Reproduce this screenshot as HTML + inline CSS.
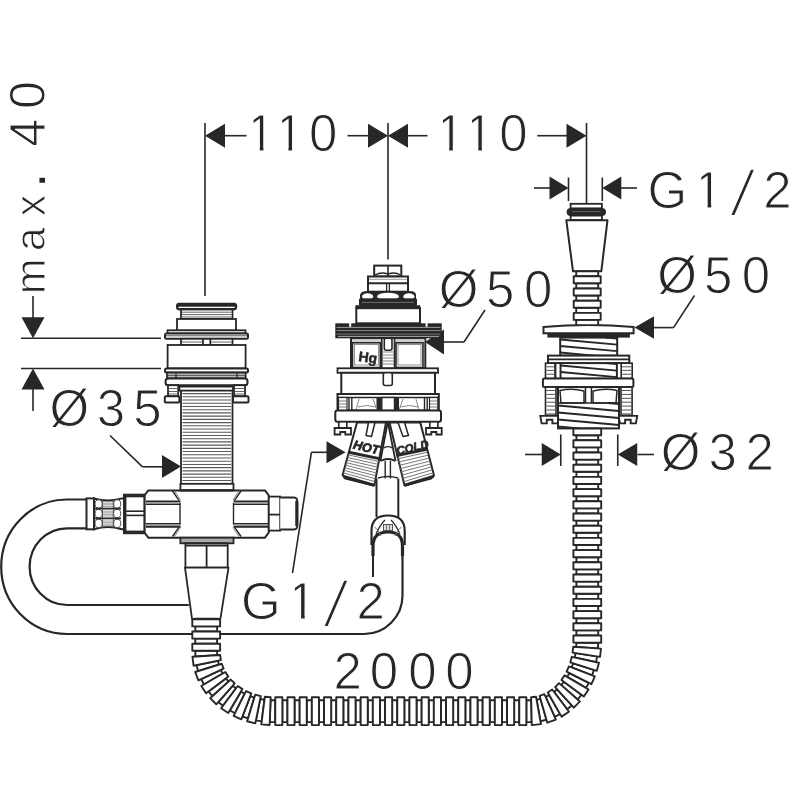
<!DOCTYPE html>
<html><head><meta charset="utf-8"><title>Installation drawing</title>
<style>
html,body{margin:0;padding:0;background:#fff;}
svg{display:block;filter:grayscale(1);}
text{font-family:"Liberation Sans",sans-serif;fill:#272727;}
.d{stroke:#fff;stroke-width:1px;}
</style></head><body>
<svg width="800" height="800" viewBox="0 0 800 800">
<rect width="800" height="800" fill="#fff"/>
<text class="d" x="246.53" y="151.1" font-size="51">1</text>
<rect x="250.02" y="146.4" width="9.76" height="5.6" fill="#fff"/>
<rect x="263.42" y="146.4" width="9.51" height="5.6" fill="#fff"/>
<rect x="250.02" y="114.91" width="3.54" height="13" fill="#fff"/>
<text class="d" x="275.18" y="151.1" font-size="51">1</text>
<rect x="278.67" y="146.4" width="9.76" height="5.6" fill="#fff"/>
<rect x="292.07" y="146.4" width="9.51" height="5.6" fill="#fff"/>
<rect x="278.67" y="114.91" width="3.54" height="13" fill="#fff"/>
<text class="d" x="308.92" y="151.1" font-size="51">0</text>
<text class="d" x="435.93" y="151.1" font-size="51">1</text>
<rect x="439.42" y="146.4" width="9.76" height="5.6" fill="#fff"/>
<rect x="452.82" y="146.4" width="9.51" height="5.6" fill="#fff"/>
<rect x="439.42" y="114.91" width="3.54" height="13" fill="#fff"/>
<text class="d" x="465.03" y="151.1" font-size="51">1</text>
<rect x="468.52" y="146.4" width="9.76" height="5.6" fill="#fff"/>
<rect x="481.92" y="146.4" width="9.51" height="5.6" fill="#fff"/>
<rect x="468.52" y="114.91" width="3.54" height="13" fill="#fff"/>
<text class="d" x="499.22" y="151.1" font-size="51">0</text>
<text class="d" x="647.39" y="207.6" font-size="51">G</text>
<text class="d" x="694.33" y="207.6" font-size="51">1</text>
<rect x="697.82" y="203.4" width="9.76" height="5.6" fill="#fff"/>
<rect x="711.22" y="203.4" width="9.51" height="5.6" fill="#fff"/>
<rect x="697.82" y="171.91" width="3.54" height="13" fill="#fff"/>
<text class="d" transform="translate(737.9,214.7) skewX(-12) scale(1.0,1.24)" x="-7.08" y="0" font-size="51">/</text>
<text class="d" x="763.32" y="207.6" font-size="51">2</text>
<text class="d" x="241.09" y="618.8" font-size="51">G</text>
<text class="d" x="287.83" y="618.8" font-size="51">1</text>
<rect x="291.32" y="614.4" width="9.76" height="5.6" fill="#fff"/>
<rect x="304.72" y="614.4" width="9.51" height="5.6" fill="#fff"/>
<rect x="291.32" y="582.91" width="3.54" height="13" fill="#fff"/>
<text class="d" transform="translate(331,626.2) skewX(-12) scale(1.0,1.24)" x="-7.08" y="0" font-size="51">/</text>
<text class="d" x="356.57" y="618.8" font-size="51">2</text>
<text class="d" x="438.64" y="307.2" font-size="51">Ø</text>
<text class="d" x="486.12" y="307" font-size="51">5</text>
<text class="d" x="523.92" y="307" font-size="51">0</text>
<text class="d" x="657.14" y="292.9" font-size="51">Ø</text>
<text class="d" x="704.12" y="292.9" font-size="51">5</text>
<text class="d" x="741.82" y="292.9" font-size="51">0</text>
<text class="d" x="660.64" y="470.2" font-size="51">Ø</text>
<text class="d" x="708.47" y="469.9" font-size="51">3</text>
<text class="d" x="745.62" y="469.5" font-size="51">2</text>
<text class="d" x="49.54" y="425.7" font-size="51">Ø</text>
<text class="d" x="96.77" y="425.6" font-size="51">3</text>
<text class="d" x="133.27" y="425.6" font-size="51">5</text>
<text class="d" x="333.62" y="689.3" font-size="51">2</text>
<text class="d" x="369.72" y="689.3" font-size="51">0</text>
<text class="d" x="408.17" y="689.3" font-size="51">0</text>
<text class="d" x="445.22" y="689.3" font-size="51">0</text>
<text class="d" transform="rotate(-90)" x="-294.32" y="45.2" font-size="43">m</text>
<text class="d" transform="rotate(-90)" x="-251.37" y="45.2" font-size="43">a</text>
<text class="d" transform="rotate(-90)" x="-216.26" y="45.2" font-size="43">x</text>
<text transform="rotate(-90)" x="-187.42" y="45.2" font-size="52">.</text>
<text class="d" transform="rotate(-90)" x="-146.68" y="45.2" font-size="50.5">4</text>
<text class="d" transform="rotate(-90)" x="-109.04" y="45.2" font-size="50.5">0</text>
<line x1="205" y1="123" x2="205" y2="296" stroke="#272727" stroke-width="1.6"/>
<line x1="388" y1="123" x2="388" y2="259.5" stroke="#272727" stroke-width="1.6"/>
<line x1="586.5" y1="123" x2="586.5" y2="203" stroke="#272727" stroke-width="1.6"/>
<path d="M205,135.7 L225,123.7 L225,147.7 Z" fill="#272727"/>
<line x1="225" y1="135.7" x2="246.5" y2="135.7" stroke="#272727" stroke-width="1.6"/>
<line x1="347.5" y1="135.7" x2="368.5" y2="135.7" stroke="#272727" stroke-width="1.6"/>
<path d="M388,135.7 L368,123.7 L368,147.7 Z" fill="#272727"/>
<path d="M388,135.7 L408,123.7 L408,147.7 Z" fill="#272727"/>
<line x1="407.5" y1="135.7" x2="427.5" y2="135.7" stroke="#272727" stroke-width="1.6"/>
<line x1="537.3" y1="135.7" x2="567" y2="135.7" stroke="#272727" stroke-width="1.6"/>
<path d="M586.5,135.7 L566.5,123.7 L566.5,147.7 Z" fill="#272727"/>
<line x1="534" y1="188" x2="550" y2="188" stroke="#272727" stroke-width="1.6"/>
<path d="M568.5,188 L549.5,176.5 L549.5,199.5 Z" fill="#272727"/>
<line x1="568.5" y1="177.5" x2="568.5" y2="201" stroke="#272727" stroke-width="1.6"/>
<line x1="602.3" y1="177.5" x2="602.3" y2="201" stroke="#272727" stroke-width="1.6"/>
<path d="M602.3,188 L621.3,176.5 L621.3,199.5 Z" fill="#272727"/>
<line x1="621" y1="188" x2="637" y2="188" stroke="#272727" stroke-width="1.6"/>
<line x1="21" y1="338.3" x2="161" y2="338.3" stroke="#272727" stroke-width="1.6"/>
<line x1="21" y1="368.5" x2="161" y2="368.5" stroke="#272727" stroke-width="1.6"/>
<line x1="33" y1="296" x2="33" y2="318" stroke="#272727" stroke-width="1.6"/>
<path d="M33,338.3 L21.5,317.3 L44.5,317.3 Z" fill="#272727"/>
<path d="M33,368.5 L21.5,389.5 L44.5,389.5 Z" fill="#272727"/>
<line x1="33" y1="389" x2="33" y2="411" stroke="#272727" stroke-width="1.6"/>
<path d="M181,466.5 L162,455 L162,478 Z" fill="#272727"/>
<line x1="162" y1="466.8" x2="142.5" y2="466.8" stroke="#272727" stroke-width="1.6"/>
<line x1="142.5" y1="466.8" x2="110" y2="435.5" stroke="#272727" stroke-width="1.6"/>
<path d="M345.5,452.3 L326.5,441.3 L326.5,463.3 Z" fill="#272727"/>
<line x1="327" y1="452.3" x2="311.4" y2="452.3" stroke="#272727" stroke-width="1.6"/>
<line x1="311.4" y1="452.3" x2="292.5" y2="573" stroke="#272727" stroke-width="1.6"/>
<path d="M425,342 L444,329.5 L444,354.5 Z" fill="#272727"/>
<line x1="444" y1="342" x2="464" y2="342" stroke="#272727" stroke-width="1.6"/>
<line x1="464" y1="342" x2="485" y2="310" stroke="#272727" stroke-width="1.6"/>
<path d="M634.5,327.6 L654,316.35 L654,338.85 Z" fill="#272727"/>
<line x1="654" y1="327.6" x2="673.5" y2="327.6" stroke="#272727" stroke-width="1.6"/>
<line x1="673.5" y1="327.6" x2="694.5" y2="295.5" stroke="#272727" stroke-width="1.6"/>
<line x1="560.75" y1="434.5" x2="560.75" y2="466" stroke="#272727" stroke-width="1.6"/>
<line x1="617.75" y1="434.5" x2="617.75" y2="466" stroke="#272727" stroke-width="1.6"/>
<line x1="525" y1="454.5" x2="542" y2="454.5" stroke="#272727" stroke-width="1.6"/>
<path d="M560.75,454.5 L541.75,443 L541.75,466 Z" fill="#272727"/>
<path d="M617.75,454.5 L637.25,443 L637.25,466 Z" fill="#272727"/>
<line x1="637.5" y1="454.5" x2="654" y2="454.5" stroke="#272727" stroke-width="1.6"/>
<rect x="181" y="388" width="51.5" height="98" fill="#fff" stroke="#272727" stroke-width="1.8"/>
<line x1="182.5" y1="393.6" x2="231" y2="393.6" stroke="#5a5a5a" stroke-width="1.1"/>
<line x1="182.5" y1="396.82" x2="231" y2="396.82" stroke="#5a5a5a" stroke-width="1.1"/>
<line x1="182.5" y1="400.04" x2="231" y2="400.04" stroke="#5a5a5a" stroke-width="1.1"/>
<line x1="182.5" y1="403.26" x2="231" y2="403.26" stroke="#5a5a5a" stroke-width="1.1"/>
<line x1="182.5" y1="406.48" x2="231" y2="406.48" stroke="#5a5a5a" stroke-width="1.1"/>
<line x1="182.5" y1="409.7" x2="231" y2="409.7" stroke="#5a5a5a" stroke-width="1.1"/>
<line x1="182.5" y1="412.92" x2="231" y2="412.92" stroke="#5a5a5a" stroke-width="1.1"/>
<line x1="182.5" y1="416.14" x2="231" y2="416.14" stroke="#5a5a5a" stroke-width="1.1"/>
<line x1="182.5" y1="419.36" x2="231" y2="419.36" stroke="#5a5a5a" stroke-width="1.1"/>
<line x1="182.5" y1="422.58" x2="231" y2="422.58" stroke="#5a5a5a" stroke-width="1.1"/>
<line x1="182.5" y1="425.8" x2="231" y2="425.8" stroke="#5a5a5a" stroke-width="1.1"/>
<line x1="182.5" y1="429.02" x2="231" y2="429.02" stroke="#5a5a5a" stroke-width="1.1"/>
<line x1="182.5" y1="432.24" x2="231" y2="432.24" stroke="#5a5a5a" stroke-width="1.1"/>
<line x1="182.5" y1="435.46" x2="231" y2="435.46" stroke="#5a5a5a" stroke-width="1.1"/>
<line x1="182.5" y1="438.68" x2="231" y2="438.68" stroke="#5a5a5a" stroke-width="1.1"/>
<line x1="182.5" y1="441.9" x2="231" y2="441.9" stroke="#5a5a5a" stroke-width="1.1"/>
<line x1="182.5" y1="445.12" x2="231" y2="445.12" stroke="#5a5a5a" stroke-width="1.1"/>
<line x1="182.5" y1="448.34" x2="231" y2="448.34" stroke="#5a5a5a" stroke-width="1.1"/>
<line x1="182.5" y1="451.56" x2="231" y2="451.56" stroke="#5a5a5a" stroke-width="1.1"/>
<line x1="182.5" y1="454.78" x2="231" y2="454.78" stroke="#5a5a5a" stroke-width="1.1"/>
<line x1="182.5" y1="458" x2="231" y2="458" stroke="#5a5a5a" stroke-width="1.1"/>
<line x1="182.5" y1="461.22" x2="231" y2="461.22" stroke="#5a5a5a" stroke-width="1.1"/>
<line x1="182.5" y1="464.44" x2="231" y2="464.44" stroke="#5a5a5a" stroke-width="1.1"/>
<line x1="182.5" y1="467.66" x2="231" y2="467.66" stroke="#5a5a5a" stroke-width="1.1"/>
<line x1="182.5" y1="470.88" x2="231" y2="470.88" stroke="#5a5a5a" stroke-width="1.1"/>
<line x1="182.5" y1="474.1" x2="231" y2="474.1" stroke="#5a5a5a" stroke-width="1.1"/>
<line x1="182.5" y1="477.32" x2="231" y2="477.32" stroke="#5a5a5a" stroke-width="1.1"/>
<line x1="182.5" y1="480.54" x2="231" y2="480.54" stroke="#5a5a5a" stroke-width="1.1"/>
<line x1="182.5" y1="483.76" x2="231" y2="483.76" stroke="#5a5a5a" stroke-width="1.1"/>
<rect x="176.8" y="303.6" width="59.6" height="6" rx="2.5" fill="#272727" stroke="#272727" stroke-width="1.6"/>
<line x1="178.5" y1="307.3" x2="234.7" y2="307.3" stroke="#fff" stroke-width="1.3"/>
<rect x="181" y="309.5" width="51.5" height="9.5" fill="#fff" stroke="#272727" stroke-width="1.8"/>
<line x1="182" y1="312.2" x2="231.5" y2="312.2" stroke="#666" stroke-width="1.0"/>
<line x1="182" y1="314.6" x2="231.5" y2="314.6" stroke="#666" stroke-width="1.0"/>
<line x1="182" y1="317" x2="231.5" y2="317" stroke="#666" stroke-width="1.0"/>
<rect x="177" y="319" width="59" height="11.6" fill="#fff" stroke="#272727" stroke-width="1.8"/>
<rect x="167.5" y="330.3" width="78" height="3.1" fill="#fff" stroke="#272727" stroke-width="1.8"/>
<rect x="165" y="333.4" width="83" height="5.4" rx="1.5" fill="#fff" stroke="#272727" stroke-width="2.0"/>
<line x1="166" y1="335.8" x2="247" y2="335.8" stroke="#555" stroke-width="1.0"/>
<rect x="181" y="338.8" width="51.5" height="6.2" fill="#fff" stroke="#272727" stroke-width="1.8"/>
<line x1="203" y1="338.8" x2="203" y2="345" stroke="#272727" stroke-width="1.8"/>
<line x1="210.3" y1="338.8" x2="210.3" y2="345" stroke="#272727" stroke-width="1.8"/>
<line x1="182" y1="342" x2="202" y2="342" stroke="#666" stroke-width="1"/>
<line x1="211" y1="342" x2="231.5" y2="342" stroke="#666" stroke-width="1"/>
<rect x="167.6" y="345" width="78" height="23.4" fill="#fff" stroke="#272727" stroke-width="1.8"/>
<rect x="165" y="368.4" width="83" height="4.2" rx="1.5" fill="#fff" stroke="#272727" stroke-width="2.0"/>
<rect x="167" y="372.6" width="78.6" height="5.8" fill="#bdbdbd" stroke="#272727" stroke-width="1.8"/>
<line x1="168" y1="375.4" x2="244.6" y2="375.4" stroke="#555" stroke-width="1.0"/>
<line x1="176" y1="372.6" x2="176" y2="378.4" stroke="#272727" stroke-width="1.2"/>
<line x1="237" y1="372.6" x2="237" y2="378.4" stroke="#272727" stroke-width="1.2"/>
<rect x="165.6" y="378.6" width="81.9" height="6.6" rx="2.5" fill="#fff" stroke="#272727" stroke-width="2.0"/>
<rect x="168" y="385.2" width="10.2" height="11.1" fill="#fff" stroke="#272727" stroke-width="1.8"/>
<rect x="234" y="385.2" width="11" height="11.1" fill="#fff" stroke="#272727" stroke-width="1.8"/>
<line x1="169" y1="388.5" x2="177.2" y2="388.5" stroke="#666" stroke-width="1"/>
<line x1="235" y1="388.5" x2="244" y2="388.5" stroke="#666" stroke-width="1"/>
<line x1="169" y1="391.5" x2="177.2" y2="391.5" stroke="#666" stroke-width="1"/>
<line x1="235" y1="391.5" x2="244" y2="391.5" stroke="#666" stroke-width="1"/>
<line x1="169" y1="394" x2="177.2" y2="394" stroke="#666" stroke-width="1"/>
<line x1="235" y1="394" x2="244" y2="394" stroke="#666" stroke-width="1"/>
<rect x="179.4" y="386.6" width="53.6" height="4" fill="#fff" stroke="#272727" stroke-width="1.8"/>
<rect x="164.8" y="396.3" width="14.6" height="6.3" rx="1" fill="#fff" stroke="#272727" stroke-width="2.0"/>
<rect x="233" y="396.3" width="15.5" height="6.3" rx="1" fill="#fff" stroke="#272727" stroke-width="2.0"/>
<rect x="180.4" y="483.8" width="53.1" height="6.6" fill="#fff" stroke="#272727" stroke-width="1.8"/>
<path d="M148.3,490.4 L265,490.4 L268.8,495.5 L268.8,532.5 L265,537.7 L148.3,537.7 L144.4,532.5 L144.4,495.5 Z" fill="#fff" stroke="#272727" stroke-width="2.0" stroke-linejoin="round" />
<rect x="146" y="501.2" width="34.5" height="3" fill="#fff"/>
<line x1="146" y1="501.2" x2="180.5" y2="501.2" stroke="#272727" stroke-width="1.6"/>
<line x1="146" y1="504.2" x2="180.5" y2="504.2" stroke="#272727" stroke-width="1.6"/>
<line x1="233.5" y1="501.2" x2="268" y2="501.2" stroke="#272727" stroke-width="1.6"/>
<line x1="233.5" y1="504.2" x2="268" y2="504.2" stroke="#272727" stroke-width="1.6"/>
<rect x="146" y="523.8" width="34.5" height="3.1" fill="#fff"/>
<line x1="146" y1="523.8" x2="180.5" y2="523.8" stroke="#272727" stroke-width="1.6"/>
<line x1="146" y1="526.9" x2="180.5" y2="526.9" stroke="#272727" stroke-width="1.6"/>
<line x1="233.5" y1="523.8" x2="268" y2="523.8" stroke="#272727" stroke-width="1.6"/>
<line x1="233.5" y1="526.9" x2="268" y2="526.9" stroke="#272727" stroke-width="1.6"/>
<line x1="146" y1="502.7" x2="180.5" y2="502.7" stroke="#999" stroke-width="1.2"/>
<line x1="146" y1="525.3" x2="180.5" y2="525.3" stroke="#999" stroke-width="1.2"/>
<line x1="233.5" y1="502.7" x2="268" y2="502.7" stroke="#999" stroke-width="1.2"/>
<line x1="233.5" y1="525.3" x2="268" y2="525.3" stroke="#999" stroke-width="1.2"/>
<path d="M172.5,491 L179,500.4 M180,503 L180,524.4 M179,527.2 L172.5,536.5" fill="none" stroke="#272727" stroke-width="1.4" />
<path d="M174.5,491 L180.5,500 M180.5,527.5 L174.5,536.5" fill="none" stroke="#777" stroke-width="0.9" />
<path d="M241,491 L234.5,500.4 M233.5,503 L233.5,524.4 M234.5,527.2 L241,536.5" fill="none" stroke="#272727" stroke-width="1.4" />
<path d="M239,491 L233,500 M233,527.5 L239,536.5" fill="none" stroke="#777" stroke-width="0.9" />
<line x1="180" y1="490.4" x2="233.5" y2="490.4" stroke="#272727" stroke-width="2.2"/>
<rect x="180.4" y="537.7" width="53.1" height="5.6" fill="#aaa" stroke="#272727" stroke-width="1.8"/>
<rect x="185.4" y="543.3" width="42.3" height="24.3" fill="#fff" stroke="#272727" stroke-width="1.8"/>
<line x1="206.6" y1="545" x2="206.6" y2="567.6" stroke="#272727" stroke-width="1.8"/>
<line x1="186" y1="545.5" x2="227" y2="545.5" stroke="#272727" stroke-width="2.2"/>
<path d="M185,567.6 L228.5,567.6 L220.4,618.8 L192,618.8 Z" fill="#fff" stroke="#272727" stroke-width="1.8" stroke-linejoin="round" />
<rect x="268.8" y="496.6" width="11.4" height="34" fill="#fff" stroke="#272727" stroke-width="1.8"/>
<line x1="268.8" y1="514.6" x2="280.2" y2="514.6" stroke="#272727" stroke-width="1.8"/>
<path d="M280.2,497.6 L294,497.6 Q297.5,497.6 297.5,503 L297.5,524 Q297.5,529.5 294,529.5 L280.2,529.5" fill="#fff" stroke="#272727" stroke-width="2.0" />
<line x1="296.5" y1="501" x2="296.5" y2="526" stroke="#272727" stroke-width="2.5"/>
<rect x="124" y="494.7" width="20.4" height="38.5" fill="#fff" stroke="#272727" stroke-width="2.0"/>
<line x1="124" y1="496.2" x2="144.4" y2="496.2" stroke="#272727" stroke-width="2.2"/>
<line x1="124" y1="531.7" x2="144.4" y2="531.7" stroke="#272727" stroke-width="2.2"/>
<line x1="125.2" y1="495" x2="125.2" y2="533" stroke="#272727" stroke-width="2.4"/>
<line x1="124" y1="511.2" x2="144.4" y2="511.2" stroke="#272727" stroke-width="1.6"/>
<line x1="124" y1="515.4" x2="144.4" y2="515.4" stroke="#272727" stroke-width="1.6"/>
<rect x="86.5" y="498.4" width="7.5" height="30.9" fill="#fff" stroke="#272727" stroke-width="2.0"/>
<path d="M94,498.4 Q107.8,502.8 121.8,498.4 L124,498.4 L124,529.3 L121.8,529.3 Q107.8,524.9 94,529.3 Z" fill="#fff" stroke="#272727" stroke-width="2.0" />
<ellipse cx="98.6" cy="504.0" rx="3.6" ry="4.2" fill="#fff" stroke="#444" stroke-width="1.0"/>
<ellipse cx="117.2" cy="504.0" rx="3.6" ry="4.2" fill="#fff" stroke="#444" stroke-width="1.0"/>
<line x1="102.5" y1="501.6" x2="113.3" y2="501.6" stroke="#888" stroke-width="0.8"/>
<line x1="102.5" y1="503.2" x2="113.3" y2="503.2" stroke="#888" stroke-width="0.8"/>
<line x1="102.5" y1="504.8" x2="113.3" y2="504.8" stroke="#888" stroke-width="0.8"/>
<line x1="102.5" y1="506.4" x2="113.3" y2="506.4" stroke="#888" stroke-width="0.8"/>
<line x1="102.5" y1="499.8" x2="102.5" y2="508.2" stroke="#555" stroke-width="1.0"/>
<line x1="113.3" y1="499.8" x2="113.3" y2="508.2" stroke="#555" stroke-width="1.0"/>
<ellipse cx="98.6" cy="513.6" rx="3.6" ry="4.2" fill="#fff" stroke="#444" stroke-width="1.0"/>
<ellipse cx="117.2" cy="513.6" rx="3.6" ry="4.2" fill="#fff" stroke="#444" stroke-width="1.0"/>
<line x1="102.5" y1="511.2" x2="113.3" y2="511.2" stroke="#888" stroke-width="0.8"/>
<line x1="102.5" y1="512.8" x2="113.3" y2="512.8" stroke="#888" stroke-width="0.8"/>
<line x1="102.5" y1="514.4" x2="113.3" y2="514.4" stroke="#888" stroke-width="0.8"/>
<line x1="102.5" y1="516" x2="113.3" y2="516" stroke="#888" stroke-width="0.8"/>
<line x1="102.5" y1="509.4" x2="102.5" y2="517.8" stroke="#555" stroke-width="1.0"/>
<line x1="113.3" y1="509.4" x2="113.3" y2="517.8" stroke="#555" stroke-width="1.0"/>
<ellipse cx="98.6" cy="523.4" rx="3.6" ry="4.2" fill="#fff" stroke="#444" stroke-width="1.0"/>
<ellipse cx="117.2" cy="523.4" rx="3.6" ry="4.2" fill="#fff" stroke="#444" stroke-width="1.0"/>
<line x1="102.5" y1="521" x2="113.3" y2="521" stroke="#888" stroke-width="0.8"/>
<line x1="102.5" y1="522.6" x2="113.3" y2="522.6" stroke="#888" stroke-width="0.8"/>
<line x1="102.5" y1="524.2" x2="113.3" y2="524.2" stroke="#888" stroke-width="0.8"/>
<line x1="102.5" y1="525.8" x2="113.3" y2="525.8" stroke="#888" stroke-width="0.8"/>
<line x1="102.5" y1="519.2" x2="102.5" y2="527.6" stroke="#555" stroke-width="1.0"/>
<line x1="113.3" y1="519.2" x2="113.3" y2="527.6" stroke="#555" stroke-width="1.0"/>
<line x1="95" y1="508.6" x2="121" y2="508.6" stroke="#272727" stroke-width="1.8"/>
<line x1="95" y1="518.4" x2="121" y2="518.4" stroke="#272727" stroke-width="1.8"/>
<path d="M86.7,499.5 L67,499.5 A65.8,67.25 0 0 0 67,634 L192,634" fill="none" stroke="#272727" stroke-width="2.2" />
<path d="M86.7,528.3 L67,528.3 A37.4,38.35 0 0 0 67,605 L188.8,605" fill="none" stroke="#272727" stroke-width="2.2" />
<path d="M220,634 L364,634 A38.5,38.5 0 0 0 402.5,595.5 L402.5,550" fill="none" stroke="#272727" stroke-width="2.2" />
<line x1="373" y1="550" x2="373" y2="577" stroke="#272727" stroke-width="2.0"/>
<rect x="374.2" y="265.6" width="27.1" height="10.9" fill="#fff" stroke="#272727" stroke-width="2.0"/>
<line x1="388" y1="265.6" x2="388" y2="276.5" stroke="#272727" stroke-width="1.6"/>
<path d="M375,275 Q381,271.5 388,274 Q395,271.5 400.5,275" fill="none" stroke="#272727" stroke-width="1.4" />
<rect x="368" y="276.5" width="40" height="15.2" fill="#fff" stroke="#272727" stroke-width="2.0"/>
<line x1="368" y1="283.2" x2="408" y2="283.2" stroke="#272727" stroke-width="2.0"/>
<line x1="369" y1="279.3" x2="407" y2="279.3" stroke="#999" stroke-width="1.0"/>
<line x1="386.6" y1="283.2" x2="386.6" y2="291.7" stroke="#272727" stroke-width="1.3"/>
<line x1="389.4" y1="283.2" x2="389.4" y2="291.7" stroke="#272727" stroke-width="1.3"/>
<path d="M360.5,306 L360.5,295 Q361,291.7 365,291.7 L411,291.7 Q415.5,291.7 415.5,295 L415.5,306 Z" fill="#272727" stroke="#272727" stroke-width="1.0" />
<ellipse cx="367.6" cy="296.6" rx="5.6" ry="3.4" fill="#fff"/>
<ellipse cx="388" cy="296.4" rx="11" ry="3.6" fill="#fff"/>
<ellipse cx="408.9" cy="296.6" rx="5.6" ry="3.4" fill="#fff"/>
<rect x="362" y="298.4" width="52" height="1.8" fill="#272727"/>
<rect x="359" y="298.8" width="58" height="6.4" fill="#272727"/>
<line x1="362" y1="302.4" x2="414" y2="302.4" stroke="#777" stroke-width="0.9"/>
<rect x="355.4" y="305.2" width="64.9" height="3" fill="#272727"/>
<rect x="356.3" y="308.2" width="63.7" height="15.1" fill="#fff" stroke="#272727" stroke-width="2.0"/>
<rect x="335.3" y="323.3" width="106.4" height="15" fill="#272727"/>
<line x1="336.5" y1="327.4" x2="440.5" y2="327.4" stroke="#aaa" stroke-width="0.9"/>
<line x1="336.5" y1="330.5" x2="440.5" y2="330.5" stroke="#999" stroke-width="0.8"/>
<line x1="336.5" y1="334.1" x2="440.5" y2="334.1" stroke="#888" stroke-width="0.8"/>
<line x1="338" y1="336.4" x2="439" y2="336.4" stroke="#aaa" stroke-width="1.0"/>
<rect x="349.2" y="323" width="2" height="3.8" fill="#fff"/>
<rect x="425.6" y="323" width="2" height="3.8" fill="#fff"/>
<rect x="351" y="338.3" width="74.3" height="30" fill="#fff" stroke="#272727" stroke-width="2.0"/>
<rect x="352" y="339.3" width="72.3" height="3.2" fill="#cfcfcf"/>
<rect x="352.5" y="342.8" width="27.8" height="24.7" fill="#fff" stroke="#272727" stroke-width="1.6"/>
<rect x="354.5" y="344.5" width="24" height="20.5" fill="#fff" stroke="#777" stroke-width="0.8"/>
<rect x="396" y="342.8" width="27" height="24.7" fill="#fff" stroke="#272727" stroke-width="1.6"/>
<rect x="398" y="344.5" width="23" height="20.5" fill="#fff" stroke="#777" stroke-width="0.8"/>
<rect x="381.8" y="338.3" width="12.7" height="30" fill="#fff" stroke="#272727" stroke-width="1.6"/>
<line x1="382.5" y1="352" x2="393.8" y2="352" stroke="#777" stroke-width="0.9"/>
<line x1="382.5" y1="355" x2="393.8" y2="355" stroke="#777" stroke-width="0.9"/>
<line x1="382.5" y1="358" x2="393.8" y2="358" stroke="#777" stroke-width="0.9"/>
<line x1="382.5" y1="361" x2="393.8" y2="361" stroke="#777" stroke-width="0.9"/>
<line x1="382.5" y1="364" x2="393.8" y2="364" stroke="#777" stroke-width="0.9"/>
<rect x="384.3" y="338.3" width="7.7" height="11.9" rx="2" fill="#fff" stroke="#272727" stroke-width="1.6"/>
<text x="358.5" y="362" font-size="14" font-weight="bold" stroke="#272727" stroke-width="0.5" transform="rotate(8 366 357)">Hg</text>
<rect x="337.5" y="368.3" width="100.5" height="4.5" fill="#fff" stroke="#272727" stroke-width="1.8"/>
<rect x="341.3" y="372.8" width="93.7" height="21.7" fill="#fff" stroke="#272727" stroke-width="2.0"/>
<rect x="383.3" y="372.8" width="9" height="12.7" rx="2" fill="#fff" stroke="#272727" stroke-width="1.6"/>
<rect x="337.5" y="394" width="101.3" height="16.5" fill="#fff" stroke="#272727" stroke-width="2.0"/>
<line x1="337.5" y1="397.5" x2="438.8" y2="397.5" stroke="#272727" stroke-width="1.6"/>
<rect x="338.5" y="397.5" width="8.5" height="13" fill="#fff" stroke="#272727" stroke-width="1.2"/>
<rect x="429.5" y="397.5" width="8.3" height="13" fill="#fff" stroke="#272727" stroke-width="1.2"/>
<line x1="339" y1="401" x2="346.5" y2="401" stroke="#666" stroke-width="0.9"/>
<line x1="430" y1="401" x2="437.3" y2="401" stroke="#666" stroke-width="0.9"/>
<line x1="339" y1="404" x2="346.5" y2="404" stroke="#666" stroke-width="0.9"/>
<line x1="430" y1="404" x2="437.3" y2="404" stroke="#666" stroke-width="0.9"/>
<line x1="339" y1="407" x2="346.5" y2="407" stroke="#666" stroke-width="0.9"/>
<line x1="430" y1="407" x2="437.3" y2="407" stroke="#666" stroke-width="0.9"/>
<line x1="349" y1="397.5" x2="349" y2="410.5" stroke="#272727" stroke-width="1.4"/>
<line x1="351.8" y1="397.5" x2="351.8" y2="410.5" stroke="#272727" stroke-width="1.4"/>
<line x1="424.5" y1="397.5" x2="424.5" y2="410.5" stroke="#272727" stroke-width="1.4"/>
<line x1="427.2" y1="397.5" x2="427.2" y2="410.5" stroke="#272727" stroke-width="1.4"/>
<rect x="376.5" y="397.5" width="5.3" height="13" fill="#272727"/>
<rect x="394.5" y="397.5" width="4.5" height="13" fill="#272727"/>
<rect x="381.8" y="397.5" width="12.7" height="13" fill="#fff" stroke="#272727" stroke-width="1.4"/>
<path d="M356,410 L359,399 M373,399 L377,410" fill="none" stroke="#888" stroke-width="1.0" />
<path d="M419,410 L416,399 M403,399 L399,410" fill="none" stroke="#888" stroke-width="1.0" />
<path d="M358,407 Q366,404 376,407 M400,407 Q410,404 418,407" fill="none" stroke="#888" stroke-width="1.0" />
<rect x="335.3" y="410.5" width="105.7" height="11.3" rx="2" fill="#fff" stroke="#272727" stroke-width="2.0"/>
<rect x="338.8" y="421.8" width="8" height="6.2" fill="#fff" stroke="#272727" stroke-width="1.6"/>
<path d="M334.6,428 L351,428 L351,434.5 L345.3,434.5 L345.3,432 L340.3,432 L340.3,434.5 L334.6,434.5 Z" fill="#fff" stroke="#272727" stroke-width="1.8" />
<rect x="429.85" y="421.8" width="8" height="6.2" fill="#fff" stroke="#272727" stroke-width="1.6"/>
<path d="M426,428 L441.7,428 L441.7,434.5 L436.35,434.5 L436.35,432 L431.35,432 L431.35,434.5 L426,434.5 Z" fill="#fff" stroke="#272727" stroke-width="1.8" />
<path d="M387.8,421.8 L380.4,461 M387.8,421.8 L395.5,461" fill="none" stroke="#272727" stroke-width="1.8" />
<path d="M383.8,447.8 Q388,445.5 392.2,447.8" fill="none" stroke="#272727" stroke-width="1.4" />
<path d="M380.4,461 Q388,457 395.5,461" fill="none" stroke="#272727" stroke-width="1.8" />
<line x1="385.2" y1="461" x2="385.2" y2="478.5" stroke="#272727" stroke-width="1.4"/>
<line x1="390.4" y1="461" x2="390.4" y2="478.5" stroke="#272727" stroke-width="1.4"/>
<path d="M378,478 Q388,475 398,478" fill="none" stroke="#272727" stroke-width="1.6" />
<path d="M357,422.5 L386,422.5 L374.3,485.5 L345.5,478.5 L342.6,475 Z" fill="#fff" stroke="#272727" stroke-width="2.0" stroke-linejoin="round" />
<line x1="348.13" y1="454.88" x2="378.77" y2="461.48" stroke="#777" stroke-width="1.0"/>
<line x1="347.47" y1="457.46" x2="378.23" y2="464.36" stroke="#777" stroke-width="1.0"/>
<line x1="346.8" y1="460.03" x2="377.7" y2="467.23" stroke="#777" stroke-width="1.0"/>
<line x1="346.13" y1="462.61" x2="377.17" y2="470.11" stroke="#777" stroke-width="1.0"/>
<line x1="345.47" y1="465.19" x2="376.63" y2="472.99" stroke="#777" stroke-width="1.0"/>
<line x1="344.8" y1="467.77" x2="376.1" y2="475.87" stroke="#777" stroke-width="1.0"/>
<line x1="344.13" y1="470.34" x2="375.57" y2="478.74" stroke="#777" stroke-width="1.0"/>
<line x1="343.47" y1="472.92" x2="375.03" y2="481.62" stroke="#777" stroke-width="1.0"/>
<line x1="343.5" y1="476.5" x2="374" y2="485.2" stroke="#272727" stroke-width="3.0"/>
<line x1="348.8" y1="452.2" x2="379.3" y2="458.6" stroke="#272727" stroke-width="3.0"/>
<path d="M368.5,422.5 L375,422.5 L371.5,436.5 L366,435.5 Z" fill="#fff" stroke="#272727" stroke-width="1.5" stroke-linejoin="round" />
<text x="0" y="0" font-size="12.5" font-weight="bold" font-style="italic" stroke="#272727" stroke-width="0.7" transform="translate(352.5,448.6) rotate(13)">HOT</text>
<path d="M389.5,422.5 L420.3,422.5 L434,475.5 L431,478.5 L404.5,485.5 Z" fill="#fff" stroke="#272727" stroke-width="2.0" stroke-linejoin="round" />
<line x1="397.39" y1="458.87" x2="427.47" y2="452.24" stroke="#777" stroke-width="1.0"/>
<line x1="398.28" y1="462.13" x2="428.23" y2="455.19" stroke="#777" stroke-width="1.0"/>
<line x1="399.17" y1="465.4" x2="429" y2="458.13" stroke="#777" stroke-width="1.0"/>
<line x1="400.06" y1="468.67" x2="429.77" y2="461.08" stroke="#777" stroke-width="1.0"/>
<line x1="400.94" y1="471.93" x2="430.53" y2="464.02" stroke="#777" stroke-width="1.0"/>
<line x1="401.83" y1="475.2" x2="431.3" y2="466.97" stroke="#777" stroke-width="1.0"/>
<line x1="402.72" y1="478.47" x2="432.07" y2="469.91" stroke="#777" stroke-width="1.0"/>
<line x1="403.61" y1="481.73" x2="432.83" y2="472.86" stroke="#777" stroke-width="1.0"/>
<line x1="404.8" y1="485.2" x2="433.4" y2="476.4" stroke="#272727" stroke-width="3.0"/>
<line x1="396.5" y1="455.6" x2="426.7" y2="449.3" stroke="#272727" stroke-width="3.0"/>
<path d="M398,422.5 L404.5,422.5 L408.5,435.5 L403,436.5 Z" fill="#fff" stroke="#272727" stroke-width="1.5" stroke-linejoin="round" />
<text x="0" y="0" font-size="11.5" font-weight="bold" font-style="italic" stroke="#272727" stroke-width="0.7" transform="translate(397.5,455) rotate(-13)">COLD</text>
<line x1="376.5" y1="478.5" x2="376.5" y2="517" stroke="#272727" stroke-width="2.0"/>
<line x1="398.3" y1="478.5" x2="398.3" y2="517" stroke="#272727" stroke-width="2.0"/>
<path d="M371.5,545 L371.5,531 Q371.5,515.5 388,515.5 Q404.7,515.5 404.7,531 L404.7,545" fill="#fff" stroke="#272727" stroke-width="2.2" />
<path d="M373,556 L373,546 Q373,532 388,532 Q402.5,532 402.5,546 L402.5,556" fill="#fff" stroke="#272727" stroke-width="3.2" />
<path d="M376,534 Q380,525 385,520 M400,534 Q396,525 391,520" fill="none" stroke="#272727" stroke-width="1.2" />
<path d="M374.5,527 Q379,530 381,536 M401.5,527 Q397,530 395,536" fill="none" stroke="#666" stroke-width="1.0" />
<rect x="383.5" y="524.5" width="9" height="6" fill="#ddd" stroke="#555" stroke-width="1.0"/>
<line x1="386.5" y1="524.5" x2="386.5" y2="530.5" stroke="#555" stroke-width="0.8"/>
<line x1="389.5" y1="524.5" x2="389.5" y2="530.5" stroke="#555" stroke-width="0.8"/>
<rect x="570.6" y="203.8" width="31.3" height="4.6" fill="#fff" stroke="#272727" stroke-width="1.8"/>
<rect x="567" y="208.4" width="38.6" height="7.2" rx="3.5" fill="#272727" stroke="#272727" stroke-width="1.0"/>
<line x1="572" y1="211.6" x2="600.5" y2="211.6" stroke="#666" stroke-width="1.0"/>
<rect x="570.6" y="215.6" width="31.3" height="4.6" fill="#fff" stroke="#272727" stroke-width="1.8"/>
<path d="M566.3,220.2 L607.5,220.2 L601.3,271.3 L573,271.3 Z" fill="#fff" stroke="#272727" stroke-width="2.0" stroke-linejoin="round" />
<path d="M543.5,327 Q588.5,323.2 633.6,327 L633.6,333.2 L543.5,333.2 Z" fill="#fff" stroke="#272727" stroke-width="2.0" />
<rect x="547.4" y="333.2" width="82.5" height="4.4" fill="#272727"/>
<rect x="560.2" y="337.6" width="57" height="18" fill="#fff" stroke="#272727" stroke-width="2.0"/>
<line x1="605.14" y1="337.6" x2="617.2" y2="338.7" stroke="#272727" stroke-width="1.8"/>
<line x1="560.2" y1="339.5" x2="617.2" y2="344.7" stroke="#272727" stroke-width="1.8"/>
<line x1="560.2" y1="346" x2="617.2" y2="351.2" stroke="#272727" stroke-width="1.8"/>
<line x1="560.2" y1="352.5" x2="594.18" y2="355.6" stroke="#272727" stroke-width="1.8"/>
<rect x="548" y="355.6" width="81.3" height="7.6" fill="#fff" stroke="#272727" stroke-width="2.0"/>
<line x1="548" y1="359.4" x2="629.3" y2="359.4" stroke="#272727" stroke-width="1.6"/>
<rect x="545.5" y="363.2" width="9.5" height="15.4" fill="#fff" stroke="#272727" stroke-width="1.6"/>
<rect x="621.2" y="363.2" width="11" height="15.4" fill="#fff" stroke="#272727" stroke-width="1.6"/>
<line x1="546.5" y1="366.8" x2="554" y2="366.8" stroke="#555" stroke-width="1.0"/>
<line x1="622.2" y1="366.8" x2="631.2" y2="366.8" stroke="#555" stroke-width="1.0"/>
<line x1="546.5" y1="370.4" x2="554" y2="370.4" stroke="#555" stroke-width="1.0"/>
<line x1="622.2" y1="370.4" x2="631.2" y2="370.4" stroke="#555" stroke-width="1.0"/>
<line x1="546.5" y1="374.2" x2="554" y2="374.2" stroke="#555" stroke-width="1.0"/>
<line x1="622.2" y1="374.2" x2="631.2" y2="374.2" stroke="#555" stroke-width="1.0"/>
<rect x="555.6" y="363.2" width="5" height="15.4" fill="#fff" stroke="#272727" stroke-width="1.6"/>
<rect x="616.8" y="363.2" width="4.4" height="15.4" fill="#fff" stroke="#272727" stroke-width="1.6"/>
<rect x="560.6" y="363.2" width="56.2" height="15.4" fill="#fff" stroke="#272727" stroke-width="1.8"/>
<line x1="605.99" y1="363.2" x2="616.8" y2="364.2" stroke="#272727" stroke-width="1.8"/>
<line x1="560.6" y1="365.5" x2="616.8" y2="370.7" stroke="#272727" stroke-width="1.8"/>
<line x1="560.6" y1="372" x2="616.8" y2="377.2" stroke="#272727" stroke-width="1.8"/>
<line x1="560.6" y1="378.5" x2="561.68" y2="378.6" stroke="#272727" stroke-width="1.8"/>
<rect x="542.9" y="378.6" width="90.5" height="8.5" rx="1.5" fill="#fff" stroke="#272727" stroke-width="2.0"/>
<rect x="545.5" y="387.1" width="10.5" height="28.2" fill="#fff" stroke="#272727" stroke-width="1.6"/>
<rect x="621" y="387.1" width="11.1" height="28.2" fill="#fff" stroke="#272727" stroke-width="1.6"/>
<line x1="546.5" y1="390.5" x2="555" y2="390.5" stroke="#555" stroke-width="1.0"/>
<line x1="622" y1="390.5" x2="631.1" y2="390.5" stroke="#555" stroke-width="1.0"/>
<line x1="546.5" y1="394.4" x2="555" y2="394.4" stroke="#555" stroke-width="1.0"/>
<line x1="622" y1="394.4" x2="631.1" y2="394.4" stroke="#555" stroke-width="1.0"/>
<line x1="546.5" y1="398.3" x2="555" y2="398.3" stroke="#555" stroke-width="1.0"/>
<line x1="622" y1="398.3" x2="631.1" y2="398.3" stroke="#555" stroke-width="1.0"/>
<line x1="546.5" y1="402.2" x2="555" y2="402.2" stroke="#555" stroke-width="1.0"/>
<line x1="622" y1="402.2" x2="631.1" y2="402.2" stroke="#555" stroke-width="1.0"/>
<line x1="546.5" y1="406.1" x2="555" y2="406.1" stroke="#555" stroke-width="1.0"/>
<line x1="622" y1="406.1" x2="631.1" y2="406.1" stroke="#555" stroke-width="1.0"/>
<line x1="546.5" y1="410" x2="555" y2="410" stroke="#555" stroke-width="1.0"/>
<line x1="622" y1="410" x2="631.1" y2="410" stroke="#555" stroke-width="1.0"/>
<line x1="546.5" y1="413.9" x2="555" y2="413.9" stroke="#555" stroke-width="1.0"/>
<line x1="622" y1="413.9" x2="631.1" y2="413.9" stroke="#555" stroke-width="1.0"/>
<path d="M540.3,415.9 L558.9,415.9 L557.6,423.4 L552.4,423.4 L552.4,419.8 L546.8,419.8 L546.8,423.4 L541.6,423.4 Z" fill="#fff" stroke="#272727" stroke-width="1.9" />
<path d="M618.6,415.9 L637.2,415.9 L635.9,423.4 L630.7,423.4 L630.7,419.8 L625.1,419.8 L625.1,423.4 L619.9,423.4 Z" fill="#fff" stroke="#272727" stroke-width="1.9" />
<rect x="558" y="387.1" width="61" height="41.3" fill="#fff" stroke="#272727" stroke-width="2.0"/>
<path d="M560,390.5 Q572,388 584,391 L584,403 L561,403 Z" fill="#fff" stroke="#272727" stroke-width="1.5" />
<path d="M617,390.5 Q605,388 593,391 L593,403 L616,403 Z" fill="#fff" stroke="#272727" stroke-width="1.5" />
<line x1="585.5" y1="387.1" x2="585.5" y2="403" stroke="#272727" stroke-width="1.5"/>
<line x1="591.4" y1="387.1" x2="591.4" y2="403" stroke="#272727" stroke-width="1.5"/>
<line x1="607.91" y1="403" x2="619" y2="404" stroke="#272727" stroke-width="1.8"/>
<line x1="558" y1="405.5" x2="619" y2="411" stroke="#272727" stroke-width="1.8"/>
<line x1="558" y1="412.5" x2="619" y2="418" stroke="#272727" stroke-width="1.8"/>
<line x1="558" y1="419.5" x2="619" y2="425" stroke="#272727" stroke-width="1.8"/>
<line x1="558" y1="426.5" x2="579.07" y2="428.4" stroke="#272727" stroke-width="1.8"/>
<line x1="558" y1="403" x2="619" y2="403" stroke="#272727" stroke-width="1.6"/>
<path d="M576.2,271.3 L576.2,276.3 L598.2,276.3 L598.2,271.3 Z" fill="#fff" stroke="#272727" stroke-width="1.9" stroke-linejoin="round" />
<path d="M576.2,283.3 L576.2,288.5 L598.2,288.5 L598.2,283.3 Z" fill="#fff" stroke="#272727" stroke-width="1.9" stroke-linejoin="round" />
<path d="M576.2,295.5 L576.2,300.7 L598.2,300.7 L598.2,295.5 Z" fill="#fff" stroke="#272727" stroke-width="1.9" stroke-linejoin="round" />
<path d="M576.2,307.7 L576.2,312.9 L598.2,312.9 L598.2,307.7 Z" fill="#fff" stroke="#272727" stroke-width="1.9" stroke-linejoin="round" />
<path d="M576.2,319.9 L576.2,325.1 L598.2,325.1 L598.2,319.9 Z" fill="#fff" stroke="#272727" stroke-width="1.9" stroke-linejoin="round" />
<path d="M573.7,276.3 L573.7,283.3 L600.7,283.3 L600.7,276.3 Z" fill="#fff" stroke="#272727" stroke-width="1.9" stroke-linejoin="round" />
<path d="M573.7,288.5 L573.7,295.5 L600.7,295.5 L600.7,288.5 Z" fill="#fff" stroke="#272727" stroke-width="1.9" stroke-linejoin="round" />
<path d="M573.7,300.7 L573.7,307.7 L600.7,307.7 L600.7,300.7 Z" fill="#fff" stroke="#272727" stroke-width="1.9" stroke-linejoin="round" />
<path d="M573.7,312.9 L573.7,319.9 L600.7,319.9 L600.7,312.9 Z" fill="#fff" stroke="#272727" stroke-width="1.9" stroke-linejoin="round" />
<path d="M576.4,435.2 L576.4,440.3 L598.2,440.3 L598.2,435.2 Z" fill="#fff" stroke="#272727" stroke-width="1.9" stroke-linejoin="round" />
<path d="M576.4,447.4 L576.4,452.5 L598.2,452.5 L598.2,447.4 Z" fill="#fff" stroke="#272727" stroke-width="1.9" stroke-linejoin="round" />
<path d="M576.4,459.6 L576.4,464.7 L598.2,464.7 L598.2,459.6 Z" fill="#fff" stroke="#272727" stroke-width="1.9" stroke-linejoin="round" />
<path d="M576.4,471.8 L576.4,476.9 L598.2,476.9 L598.2,471.8 Z" fill="#fff" stroke="#272727" stroke-width="1.9" stroke-linejoin="round" />
<path d="M576.4,484 L576.4,489.1 L598.2,489.1 L598.2,484 Z" fill="#fff" stroke="#272727" stroke-width="1.9" stroke-linejoin="round" />
<path d="M576.4,496.2 L576.4,501.3 L598.2,501.3 L598.2,496.2 Z" fill="#fff" stroke="#272727" stroke-width="1.9" stroke-linejoin="round" />
<path d="M576.4,508.4 L576.4,513.5 L598.2,513.5 L598.2,508.4 Z" fill="#fff" stroke="#272727" stroke-width="1.9" stroke-linejoin="round" />
<path d="M576.4,520.6 L576.4,525.7 L598.2,525.7 L598.2,520.6 Z" fill="#fff" stroke="#272727" stroke-width="1.9" stroke-linejoin="round" />
<path d="M576.4,532.8 L576.4,537.9 L598.2,537.9 L598.2,532.8 Z" fill="#fff" stroke="#272727" stroke-width="1.9" stroke-linejoin="round" />
<path d="M576.4,545 L576.4,550.1 L598.2,550.1 L598.2,545 Z" fill="#fff" stroke="#272727" stroke-width="1.9" stroke-linejoin="round" />
<path d="M576.4,557.2 L576.4,562.3 L598.2,562.3 L598.2,557.2 Z" fill="#fff" stroke="#272727" stroke-width="1.9" stroke-linejoin="round" />
<path d="M576.4,569.4 L576.4,574.5 L598.2,574.5 L598.2,569.4 Z" fill="#fff" stroke="#272727" stroke-width="1.9" stroke-linejoin="round" />
<path d="M576.4,581.6 L576.4,586.7 L598.2,586.7 L598.2,581.6 Z" fill="#fff" stroke="#272727" stroke-width="1.9" stroke-linejoin="round" />
<path d="M576.4,593.8 L576.4,598.9 L598.2,598.9 L598.2,593.8 Z" fill="#fff" stroke="#272727" stroke-width="1.9" stroke-linejoin="round" />
<path d="M576.4,606 L576.4,611.1 L598.2,611.1 L598.2,606 Z" fill="#fff" stroke="#272727" stroke-width="1.9" stroke-linejoin="round" />
<path d="M576.4,618.2 L576.4,623.3 L598.2,623.3 L598.2,618.2 Z" fill="#fff" stroke="#272727" stroke-width="1.9" stroke-linejoin="round" />
<path d="M576.4,630.4 L576.4,635.5 L598.2,635.5 L598.2,630.4 Z" fill="#fff" stroke="#272727" stroke-width="1.9" stroke-linejoin="round" />
<path d="M576.4,642.49 L576.23,646.95 L597.98,648.44 L598.2,642.71 Z" fill="#fff" stroke="#272727" stroke-width="1.9" stroke-linejoin="round" />
<path d="M575.55,653.09 L574.74,657.46 L596.04,662.07 L597.1,656.42 Z" fill="#fff" stroke="#272727" stroke-width="1.9" stroke-linejoin="round" />
<path d="M573.18,663.33 L571.72,667.51 L592.05,675.36 L593.96,669.91 Z" fill="#fff" stroke="#272727" stroke-width="1.9" stroke-linejoin="round" />
<path d="M569.28,673.03 L567.18,676.88 L585.97,687.93 L588.75,682.83 Z" fill="#fff" stroke="#272727" stroke-width="1.9" stroke-linejoin="round" />
<path d="M563.88,681.85 L561.26,685.1 L577.65,699.48 L581.42,694.79 Z" fill="#fff" stroke="#272727" stroke-width="1.9" stroke-linejoin="round" />
<path d="M557.16,689.3 L554.01,691.93 L567.15,709.33 L571.83,705.43 Z" fill="#fff" stroke="#272727" stroke-width="1.9" stroke-linejoin="round" />
<path d="M549.28,695.08 L545.61,696.96 L554.65,716.8 L560.06,714.03 Z" fill="#fff" stroke="#272727" stroke-width="1.9" stroke-linejoin="round" />
<path d="M540.46,698.85 L536.59,699.75 L540.42,721.21 L546.49,719.8 Z" fill="#fff" stroke="#272727" stroke-width="1.9" stroke-linejoin="round" />
<path d="M531.19,700.29 L526.35,700.3 L526.35,722.1 L531.71,722.08 Z" fill="#fff" stroke="#272727" stroke-width="1.9" stroke-linejoin="round" />
<path d="M519.25,700.3 L514.15,700.3 L514.15,722.1 L519.25,722.1 Z" fill="#fff" stroke="#272727" stroke-width="1.9" stroke-linejoin="round" />
<path d="M507.05,700.3 L501.95,700.3 L501.95,722.1 L507.05,722.1 Z" fill="#fff" stroke="#272727" stroke-width="1.9" stroke-linejoin="round" />
<path d="M494.85,700.3 L489.75,700.3 L489.75,722.1 L494.85,722.1 Z" fill="#fff" stroke="#272727" stroke-width="1.9" stroke-linejoin="round" />
<path d="M482.65,700.3 L477.55,700.3 L477.55,722.1 L482.65,722.1 Z" fill="#fff" stroke="#272727" stroke-width="1.9" stroke-linejoin="round" />
<path d="M470.45,700.3 L465.35,700.3 L465.35,722.1 L470.45,722.1 Z" fill="#fff" stroke="#272727" stroke-width="1.9" stroke-linejoin="round" />
<path d="M458.25,700.3 L453.15,700.3 L453.15,722.1 L458.25,722.1 Z" fill="#fff" stroke="#272727" stroke-width="1.9" stroke-linejoin="round" />
<path d="M446.05,700.3 L440.95,700.3 L440.95,722.1 L446.05,722.1 Z" fill="#fff" stroke="#272727" stroke-width="1.9" stroke-linejoin="round" />
<path d="M433.85,700.3 L428.75,700.3 L428.75,722.1 L433.85,722.1 Z" fill="#fff" stroke="#272727" stroke-width="1.9" stroke-linejoin="round" />
<path d="M421.65,700.3 L416.55,700.3 L416.55,722.1 L421.65,722.1 Z" fill="#fff" stroke="#272727" stroke-width="1.9" stroke-linejoin="round" />
<path d="M409.45,700.3 L404.35,700.3 L404.35,722.1 L409.45,722.1 Z" fill="#fff" stroke="#272727" stroke-width="1.9" stroke-linejoin="round" />
<path d="M397.25,700.3 L392.15,700.3 L392.15,722.1 L397.25,722.1 Z" fill="#fff" stroke="#272727" stroke-width="1.9" stroke-linejoin="round" />
<path d="M385.05,700.3 L379.95,700.3 L379.95,722.1 L385.05,722.1 Z" fill="#fff" stroke="#272727" stroke-width="1.9" stroke-linejoin="round" />
<path d="M372.85,700.3 L367.75,700.3 L367.75,722.1 L372.85,722.1 Z" fill="#fff" stroke="#272727" stroke-width="1.9" stroke-linejoin="round" />
<path d="M360.65,700.3 L355.55,700.3 L355.55,722.1 L360.65,722.1 Z" fill="#fff" stroke="#272727" stroke-width="1.9" stroke-linejoin="round" />
<path d="M348.45,700.3 L343.35,700.3 L343.35,722.1 L348.45,722.1 Z" fill="#fff" stroke="#272727" stroke-width="1.9" stroke-linejoin="round" />
<path d="M336.25,700.3 L331.15,700.3 L331.15,722.1 L336.25,722.1 Z" fill="#fff" stroke="#272727" stroke-width="1.9" stroke-linejoin="round" />
<path d="M324.05,700.3 L318.95,700.3 L318.95,722.1 L324.05,722.1 Z" fill="#fff" stroke="#272727" stroke-width="1.9" stroke-linejoin="round" />
<path d="M311.85,700.3 L306.75,700.3 L306.75,722.1 L311.85,722.1 Z" fill="#fff" stroke="#272727" stroke-width="1.9" stroke-linejoin="round" />
<path d="M299.65,700.3 L294.55,700.3 L294.55,722.1 L299.65,722.1 Z" fill="#fff" stroke="#272727" stroke-width="1.9" stroke-linejoin="round" />
<path d="M287.45,700.3 L282.35,700.3 L282.35,722.1 L287.45,722.1 Z" fill="#fff" stroke="#272727" stroke-width="1.9" stroke-linejoin="round" />
<path d="M275.25,700.3 L270.56,700.25 L269.74,722.04 L275.25,722.1 Z" fill="#fff" stroke="#272727" stroke-width="1.9" stroke-linejoin="round" />
<path d="M264.47,699.74 L260.18,699.03 L255.91,720.41 L261.69,721.36 Z" fill="#fff" stroke="#272727" stroke-width="1.9" stroke-linejoin="round" />
<path d="M254.34,697.56 L250.25,696.17 L242.42,716.52 L247.98,718.42 Z" fill="#fff" stroke="#272727" stroke-width="1.9" stroke-linejoin="round" />
<path d="M244.69,693.73 L240.92,691.67 L229.8,710.42 L234.99,713.26 Z" fill="#fff" stroke="#272727" stroke-width="1.9" stroke-linejoin="round" />
<path d="M235.99,688.36 L232.75,685.73 L218.28,702.03 L222.95,705.83 Z" fill="#fff" stroke="#272727" stroke-width="1.9" stroke-linejoin="round" />
<path d="M228.57,681.59 L225.95,678.41 L208.51,691.49 L212.38,696.18 Z" fill="#fff" stroke="#272727" stroke-width="1.9" stroke-linejoin="round" />
<path d="M222.74,673.56 L220.88,669.94 L201.08,679.06 L203.89,684.5 Z" fill="#fff" stroke="#272727" stroke-width="1.9" stroke-linejoin="round" />
<path d="M218.87,664.64 L217.89,660.73 L196.53,665.12 L198.05,671.09 Z" fill="#fff" stroke="#272727" stroke-width="1.9" stroke-linejoin="round" />
<path d="M217.18,655.25 L217.1,650.79 L195.3,650.79 L195.41,656.53 Z" fill="#fff" stroke="#272727" stroke-width="1.9" stroke-linejoin="round" />
<path d="M217.1,643.69 L217.1,638.59 L195.3,638.59 L195.3,643.69 Z" fill="#fff" stroke="#272727" stroke-width="1.9" stroke-linejoin="round" />
<path d="M217.1,631.49 L217.1,626.39 L195.3,626.39 L195.3,631.49 Z" fill="#fff" stroke="#272727" stroke-width="1.9" stroke-linejoin="round" />
<path d="M217.1,619.29 L217.1,618.8 L195.3,618.8 L195.3,619.29 Z" fill="#fff" stroke="#272727" stroke-width="1.9" stroke-linejoin="round" />
<path d="M573.4,428.5 L573.4,435.2 L601.2,435.2 L601.2,428.5 Z" fill="#fff" stroke="#272727" stroke-width="1.9" stroke-linejoin="round" />
<path d="M573.4,440.3 L573.4,447.4 L601.2,447.4 L601.2,440.3 Z" fill="#fff" stroke="#272727" stroke-width="1.9" stroke-linejoin="round" />
<path d="M573.4,452.5 L573.4,459.6 L601.2,459.6 L601.2,452.5 Z" fill="#fff" stroke="#272727" stroke-width="1.9" stroke-linejoin="round" />
<path d="M573.4,464.7 L573.4,471.8 L601.2,471.8 L601.2,464.7 Z" fill="#fff" stroke="#272727" stroke-width="1.9" stroke-linejoin="round" />
<path d="M573.4,476.9 L573.4,484 L601.2,484 L601.2,476.9 Z" fill="#fff" stroke="#272727" stroke-width="1.9" stroke-linejoin="round" />
<path d="M573.4,489.1 L573.4,496.2 L601.2,496.2 L601.2,489.1 Z" fill="#fff" stroke="#272727" stroke-width="1.9" stroke-linejoin="round" />
<path d="M573.4,501.3 L573.4,508.4 L601.2,508.4 L601.2,501.3 Z" fill="#fff" stroke="#272727" stroke-width="1.9" stroke-linejoin="round" />
<path d="M573.4,513.5 L573.4,520.6 L601.2,520.6 L601.2,513.5 Z" fill="#fff" stroke="#272727" stroke-width="1.9" stroke-linejoin="round" />
<path d="M573.4,525.7 L573.4,532.8 L601.2,532.8 L601.2,525.7 Z" fill="#fff" stroke="#272727" stroke-width="1.9" stroke-linejoin="round" />
<path d="M573.4,537.9 L573.4,545 L601.2,545 L601.2,537.9 Z" fill="#fff" stroke="#272727" stroke-width="1.9" stroke-linejoin="round" />
<path d="M573.4,550.1 L573.4,557.2 L601.2,557.2 L601.2,550.1 Z" fill="#fff" stroke="#272727" stroke-width="1.9" stroke-linejoin="round" />
<path d="M573.4,562.3 L573.4,569.4 L601.2,569.4 L601.2,562.3 Z" fill="#fff" stroke="#272727" stroke-width="1.9" stroke-linejoin="round" />
<path d="M573.4,574.5 L573.4,581.6 L601.2,581.6 L601.2,574.5 Z" fill="#fff" stroke="#272727" stroke-width="1.9" stroke-linejoin="round" />
<path d="M573.4,586.7 L573.4,593.8 L601.2,593.8 L601.2,586.7 Z" fill="#fff" stroke="#272727" stroke-width="1.9" stroke-linejoin="round" />
<path d="M573.4,598.9 L573.4,606 L601.2,606 L601.2,598.9 Z" fill="#fff" stroke="#272727" stroke-width="1.9" stroke-linejoin="round" />
<path d="M573.4,611.1 L573.4,618.2 L601.2,618.2 L601.2,611.1 Z" fill="#fff" stroke="#272727" stroke-width="1.9" stroke-linejoin="round" />
<path d="M573.4,623.3 L573.4,630.4 L601.2,630.4 L601.2,623.3 Z" fill="#fff" stroke="#272727" stroke-width="1.9" stroke-linejoin="round" />
<path d="M573.4,635.5 L573.4,642.46 L601.2,642.74 L601.2,635.5 Z" fill="#fff" stroke="#272727" stroke-width="1.9" stroke-linejoin="round" />
<path d="M573.24,646.75 L572.59,652.63 L600.06,656.87 L600.97,648.64 Z" fill="#fff" stroke="#272727" stroke-width="1.9" stroke-linejoin="round" />
<path d="M571.8,656.83 L570.32,662.43 L596.82,670.82 L598.98,662.7 Z" fill="#fff" stroke="#272727" stroke-width="1.9" stroke-linejoin="round" />
<path d="M568.92,666.43 L566.6,671.68 L591.43,684.18 L594.85,676.44 Z" fill="#fff" stroke="#272727" stroke-width="1.9" stroke-linejoin="round" />
<path d="M564.59,675.36 L561.46,680.07 L583.84,696.57 L588.56,689.45 Z" fill="#fff" stroke="#272727" stroke-width="1.9" stroke-linejoin="round" />
<path d="M559.01,683.12 L555.14,687.09 L573.85,707.64 L579.9,701.46 Z" fill="#fff" stroke="#272727" stroke-width="1.9" stroke-linejoin="round" />
<path d="M552.2,689.54 L547.8,692.47 L561.54,716.64 L568.96,711.72 Z" fill="#fff" stroke="#272727" stroke-width="1.9" stroke-linejoin="round" />
<path d="M544.37,694.23 L539.63,695.97 L547.32,722.68 L555.89,719.53 Z" fill="#fff" stroke="#272727" stroke-width="1.9" stroke-linejoin="round" />
<path d="M536.06,696.79 L531.12,697.29 L531.78,725.08 L540.95,724.16 Z" fill="#fff" stroke="#272727" stroke-width="1.9" stroke-linejoin="round" />
<path d="M526.35,697.3 L519.25,697.3 L519.25,725.1 L526.35,725.1 Z" fill="#fff" stroke="#272727" stroke-width="1.9" stroke-linejoin="round" />
<path d="M514.15,697.3 L507.05,697.3 L507.05,725.1 L514.15,725.1 Z" fill="#fff" stroke="#272727" stroke-width="1.9" stroke-linejoin="round" />
<path d="M501.95,697.3 L494.85,697.3 L494.85,725.1 L501.95,725.1 Z" fill="#fff" stroke="#272727" stroke-width="1.9" stroke-linejoin="round" />
<path d="M489.75,697.3 L482.65,697.3 L482.65,725.1 L489.75,725.1 Z" fill="#fff" stroke="#272727" stroke-width="1.9" stroke-linejoin="round" />
<path d="M477.55,697.3 L470.45,697.3 L470.45,725.1 L477.55,725.1 Z" fill="#fff" stroke="#272727" stroke-width="1.9" stroke-linejoin="round" />
<path d="M465.35,697.3 L458.25,697.3 L458.25,725.1 L465.35,725.1 Z" fill="#fff" stroke="#272727" stroke-width="1.9" stroke-linejoin="round" />
<path d="M453.15,697.3 L446.05,697.3 L446.05,725.1 L453.15,725.1 Z" fill="#fff" stroke="#272727" stroke-width="1.9" stroke-linejoin="round" />
<path d="M440.95,697.3 L433.85,697.3 L433.85,725.1 L440.95,725.1 Z" fill="#fff" stroke="#272727" stroke-width="1.9" stroke-linejoin="round" />
<path d="M428.75,697.3 L421.65,697.3 L421.65,725.1 L428.75,725.1 Z" fill="#fff" stroke="#272727" stroke-width="1.9" stroke-linejoin="round" />
<path d="M416.55,697.3 L409.45,697.3 L409.45,725.1 L416.55,725.1 Z" fill="#fff" stroke="#272727" stroke-width="1.9" stroke-linejoin="round" />
<path d="M404.35,697.3 L397.25,697.3 L397.25,725.1 L404.35,725.1 Z" fill="#fff" stroke="#272727" stroke-width="1.9" stroke-linejoin="round" />
<path d="M392.15,697.3 L385.05,697.3 L385.05,725.1 L392.15,725.1 Z" fill="#fff" stroke="#272727" stroke-width="1.9" stroke-linejoin="round" />
<path d="M379.95,697.3 L372.85,697.3 L372.85,725.1 L379.95,725.1 Z" fill="#fff" stroke="#272727" stroke-width="1.9" stroke-linejoin="round" />
<path d="M367.75,697.3 L360.65,697.3 L360.65,725.1 L367.75,725.1 Z" fill="#fff" stroke="#272727" stroke-width="1.9" stroke-linejoin="round" />
<path d="M355.55,697.3 L348.45,697.3 L348.45,725.1 L355.55,725.1 Z" fill="#fff" stroke="#272727" stroke-width="1.9" stroke-linejoin="round" />
<path d="M343.35,697.3 L336.25,697.3 L336.25,725.1 L343.35,725.1 Z" fill="#fff" stroke="#272727" stroke-width="1.9" stroke-linejoin="round" />
<path d="M331.15,697.3 L324.05,697.3 L324.05,725.1 L331.15,725.1 Z" fill="#fff" stroke="#272727" stroke-width="1.9" stroke-linejoin="round" />
<path d="M318.95,697.3 L311.85,697.3 L311.85,725.1 L318.95,725.1 Z" fill="#fff" stroke="#272727" stroke-width="1.9" stroke-linejoin="round" />
<path d="M306.75,697.3 L299.65,697.3 L299.65,725.1 L306.75,725.1 Z" fill="#fff" stroke="#272727" stroke-width="1.9" stroke-linejoin="round" />
<path d="M294.55,697.3 L287.45,697.3 L287.45,725.1 L294.55,725.1 Z" fill="#fff" stroke="#272727" stroke-width="1.9" stroke-linejoin="round" />
<path d="M282.35,697.3 L275.25,697.3 L275.25,725.1 L282.35,725.1 Z" fill="#fff" stroke="#272727" stroke-width="1.9" stroke-linejoin="round" />
<path d="M270.68,697.26 L264.85,696.77 L261.3,724.34 L269.62,725.04 Z" fill="#fff" stroke="#272727" stroke-width="1.9" stroke-linejoin="round" />
<path d="M260.77,696.09 L255.22,694.69 L247.11,721.29 L255.32,723.35 Z" fill="#fff" stroke="#272727" stroke-width="1.9" stroke-linejoin="round" />
<path d="M251.33,693.37 L246.02,691.05 L233.65,715.94 L241.35,719.32 Z" fill="#fff" stroke="#272727" stroke-width="1.9" stroke-linejoin="round" />
<path d="M242.45,689.09 L237.78,685.96 L221.16,708.24 L228.27,713 Z" fill="#fff" stroke="#272727" stroke-width="1.9" stroke-linejoin="round" />
<path d="M234.75,683.48 L230.8,679.58 L210.15,698.18 L216.29,704.27 Z" fill="#fff" stroke="#272727" stroke-width="1.9" stroke-linejoin="round" />
<path d="M228.35,676.61 L225.34,672.05 L201.3,686.01 L206.11,693.29 Z" fill="#fff" stroke="#272727" stroke-width="1.9" stroke-linejoin="round" />
<path d="M223.61,668.68 L221.74,663.75 L195.18,671.98 L198.36,680.31 Z" fill="#fff" stroke="#272727" stroke-width="1.9" stroke-linejoin="round" />
<path d="M220.83,660.13 L220.17,655.07 L192.42,656.7 L193.6,665.72 Z" fill="#fff" stroke="#272727" stroke-width="1.9" stroke-linejoin="round" />
<path d="M220.1,650.79 L220.1,643.69 L192.3,643.69 L192.3,650.79 Z" fill="#fff" stroke="#272727" stroke-width="1.9" stroke-linejoin="round" />
<path d="M220.1,638.59 L220.1,631.49 L192.3,631.49 L192.3,638.59 Z" fill="#fff" stroke="#272727" stroke-width="1.9" stroke-linejoin="round" />
<path d="M220.1,626.39 L220.1,619.29 L192.3,619.29 L192.3,626.39 Z" fill="#fff" stroke="#272727" stroke-width="1.9" stroke-linejoin="round" />
</svg>
</body></html>
